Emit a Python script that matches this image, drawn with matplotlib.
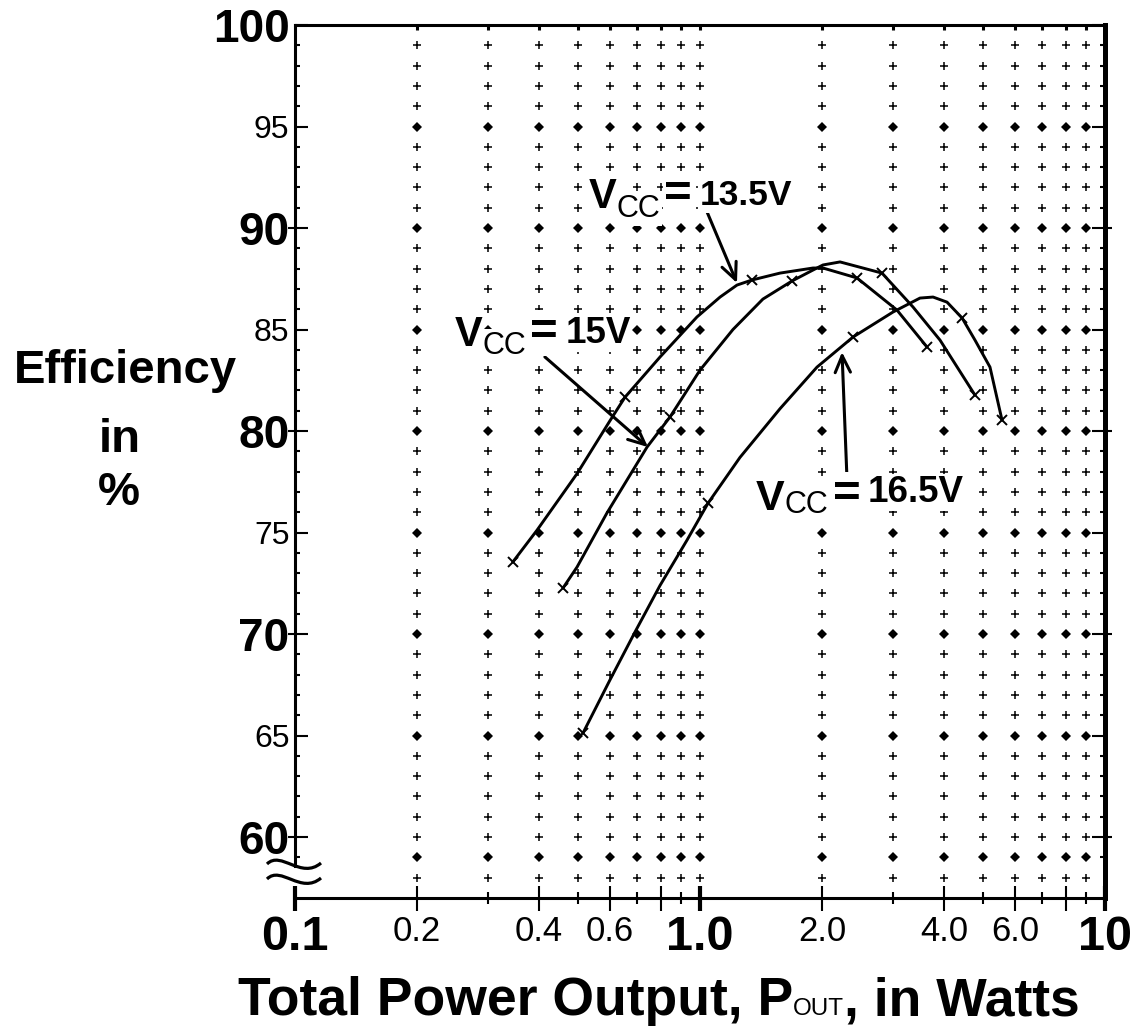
import numpy as np
import matplotlib
matplotlib.use('Agg')
import matplotlib.pyplot as plt
from matplotlib import transforms
from matplotlib.path import Path
from matplotlib.patches import PathPatch
from matplotlib.ticker import NullFormatter

plt.rcParams['font.family'] = ['Liberation Sans', 'DejaVu Sans']

# values: P_OUT in W, efficiency in %
p_135 = [0.345, 0.396, 0.497, 0.599, 0.653, 0.797, 0.983, 1.121, 1.234, 1.344,
         1.576, 1.901, 2.012, 2.442, 3.064, 3.635]
eff_135 = [73.55, 75.12, 77.9, 80.5, 81.67, 83.65, 85.62, 86.60, 87.19, 87.44,
           87.78, 88.03, 88.03, 87.54, 85.96, 84.14]
mk_135 = [0, 4, 9, 13, 15]

p_15 = [0.459, 0.497, 0.589, 0.740, 0.843, 1.0, 1.206, 1.43, 1.687, 1.901,
        2.012, 2.217, 2.814, 3.357, 3.914, 4.775]
eff_15 = [72.27, 73.30, 75.96, 79.21, 80.69, 83.0, 85.0, 86.5, 87.39, 87.93,
          88.18, 88.33, 87.78, 86.11, 84.48, 81.77]
mk_15 = [0, 4, 8, 12, 15]

p_165 = [0.514, 0.599, 0.691, 0.797, 0.929, 1.047, 1.255, 1.576, 1.945, 2.387,
         2.995, 3.493, 3.762, 4.073, 4.437, 4.775, 5.2, 5.568]
eff_165 = [65.12, 67.73, 70.1, 72.4, 74.63, 76.45, 78.7, 81.1, 83.15, 84.63,
           85.86, 86.55, 86.60, 86.35, 85.57, 84.48, 83.15, 80.54]
mk_165 = [0, 5, 9, 14, 17]

grid_x = [0.2, 0.3, 0.4, 0.5, 0.6, 0.7, 0.8, 0.9, 1.0, 2, 3, 4, 5, 6, 7, 8, 9]
grid_rows = list(range(58, 100))
dot_rows = [95, 90, 85, 80, 75, 70, 65, 59]

x_major = [0.1, 0.2, 0.4, 0.6, 0.8, 1, 2, 4, 6, 8, 10]
x_labels = ['0.1', '0.2', '0.4', '0.6', '', '1.0', '2.0', '4.0', '6.0', '', '10']
x_minor = [0.3, 0.5, 0.7, 0.9, 3, 5, 7, 9]
bold_x = ['0.1', '1.0', '10']

y_major = [60, 65, 70, 75, 80, 85, 90, 95, 100]
bold_y = [60, 70, 80, 90, 100]

W, H = 1133, 1027
fig = plt.figure(figsize=(W / 100, H / 100), dpi=100)
ax = fig.add_axes([295 / W, 1 - 898 / H, 810 / W, 873 / H])
ax.set_xscale('log')
ax.set_xlim(0.1, 10)
ax.set_ylim(57, 100)

# the "+" / dot grid
gx, gy = np.meshgrid(grid_x, grid_rows)
is_dot = np.isin(gy, dot_rows)
ax.plot(gx[~is_dot], gy[~is_dot], '+', color='black', ms=6, mew=1.1, ls='none', zorder=1)
ax.plot(gx[is_dot], gy[is_dot], 'D', color='black', ms=5, mew=0, ls='none', zorder=1)

for p, e, mk in [(p_135, eff_135, mk_135), (p_15, eff_15, mk_15), (p_165, eff_165, mk_165)]:
    ax.plot(p, e, '-x', color='black', lw=2.1, ms=7, mew=1.4, markevery=mk,
            zorder=4, solid_joinstyle='round', solid_capstyle='round')

# x ticks
ax.set_xticks(x_major, x_labels)
ax.set_xticks(x_minor, minor=True)
ax.xaxis.set_minor_formatter(NullFormatter())
ax.tick_params(axis='x', which='major', direction='inout', length=18, width=1.5, pad=3)
ax.tick_params(axis='x', which='minor', direction='inout', length=8.5, width=1.5)
for i, tick in enumerate(ax.xaxis.get_major_ticks()):
    if x_labels[i] in bold_x:
        tick.label1.set_fontsize(35)
        tick.label1.set_fontweight('bold')
        tick.tick1line.set_markeredgewidth(3)
    else:
        tick.label1.set_fontsize(25)

# y ticks
ax.set_yticks(y_major, [str(v) for v in y_major])
ax.set_yticks(range(59, 100), minor=True)
ax.yaxis.set_minor_formatter(NullFormatter())
ax.tick_params(axis='y', which='major', direction='in', length=9.5, width=1.5, pad=4, right=True)
ax.tick_params(axis='y', which='minor', direction='in', length=3.6, width=1.5, right=True)
for i, tick in enumerate(ax.yaxis.get_major_ticks()):
    if y_major[i] in bold_y:
        tick.label1.set_fontsize(33)
        tick.label1.set_fontweight('bold')
    else:
        tick.label1.set_fontsize(23)

stub = transforms.blended_transform_factory(ax.transAxes, ax.transData)
for v in [60, 70, 80, 90]:
    ax.plot([-7 / 810, 0], [v, v], transform=stub, color='black', lw=1.5,
            clip_on=False, solid_capstyle='butt')
    ax.plot([1, 1 + 7 / 810], [v, v], transform=stub, color='black', lw=1.5,
            clip_on=False, solid_capstyle='butt')
top = transforms.blended_transform_factory(ax.transData, ax.transAxes)
for v in grid_x:
    ax.plot([v, v], [1, 1 - 5 / 873], transform=top, color='black', lw=2.2,
            clip_on=False, solid_capstyle='butt')

for side, lw in [('left', 2.2), ('bottom', 2.2), ('top', 2.2), ('right', 3.6)]:
    ax.spines[side].set_linewidth(lw)
ax.spines['left'].set_bounds(58.6, 100)

# axis break mark (two waves)
for off in [0, 15]:
    pts = [(267, 864 + off), (281, 850 + off), (301, 880 + off), (321, 863 + off)]
    pts = [(x / W, 1 - y / H) for x, y in pts]
    wave = Path(pts, [Path.MOVETO, Path.CURVE4, Path.CURVE4, Path.CURVE4])
    fig.add_artist(PathPatch(wave, transform=fig.transFigure, fill=False,
                             lw=2.3, edgecolor='black'))

renderer = fig.canvas.get_renderer()


def place_pieces(px, py, pieces, box=False):
    dx = 0.0
    for s, size, weight, dy, gap in pieces:
        dx += gap
        tr = transforms.offset_copy(fig.transFigure, x=dx, y=dy, units='dots')
        t = fig.text(px / W, 1 - py / H, s, transform=tr, fontsize=size,
                     fontweight=weight, ha='left', va='baseline', zorder=3)
        if box:
            t.set_bbox(dict(facecolor='white', edgecolor='none', pad=1))
        dx += t.get_window_extent(renderer).width


place_pieces(238, 1015, [('Total Power Output, P', 38.5, 'bold', 0, 0),
                         ('OUT', 17.5, 'normal', 0, 0),
                         (', in Watts', 38.5, 'bold', 0, 0)])

fig.text(125 / W, 1 - 383 / H, 'Efficiency', fontsize=34, fontweight='bold',
         ha='center', va='baseline')
fig.text(120 / W, 1 - 452 / H, 'in', fontsize=34, fontweight='bold',
         ha='center', va='baseline')
fig.text(119 / W, 1 - 505 / H, '%', fontsize=34, fontweight='bold',
         ha='center', va='baseline')

place_pieces(589, 208, [('V', 30, 'bold', 0, 0), ('CC', 22, 'normal', -9, 0),
                        ('=', 34, 'bold', 1, 4), ('13.5V', 25.5, 'bold', 3, 7)], box=True)
place_pieces(455, 346, [('V', 30, 'bold', 0, 0), ('CC', 22, 'normal', -8, 0),
                        ('=', 34, 'bold', 1, 4), ('15V', 26.5, 'bold', 3, 7)], box=True)
place_pieces(756, 510, [('V', 31, 'bold', 0, 0), ('CC', 22, 'normal', -3, 0),
                        ('=', 34, 'bold', 3, 5), ('16.5V', 26.5, 'bold', 8, 6)], box=True)

arrow = dict(arrowstyle='->,head_length=1.2,head_width=0.55', lw=2.2, color='black',
             shrinkA=0, shrinkB=0)
ax.annotate('', xy=(1.234, 87.29), xytext=(1.041, 90.79), arrowprops=arrow, zorder=5)
ax.annotate('', xy=(0.744, 79.21), xytext=(0.414, 83.65), arrowprops=arrow, zorder=5)
ax.annotate('', xy=(2.242, 83.89), xytext=(2.307, 77.59), arrowprops=arrow, zorder=5)

fig.savefig('out.png', dpi=100)
